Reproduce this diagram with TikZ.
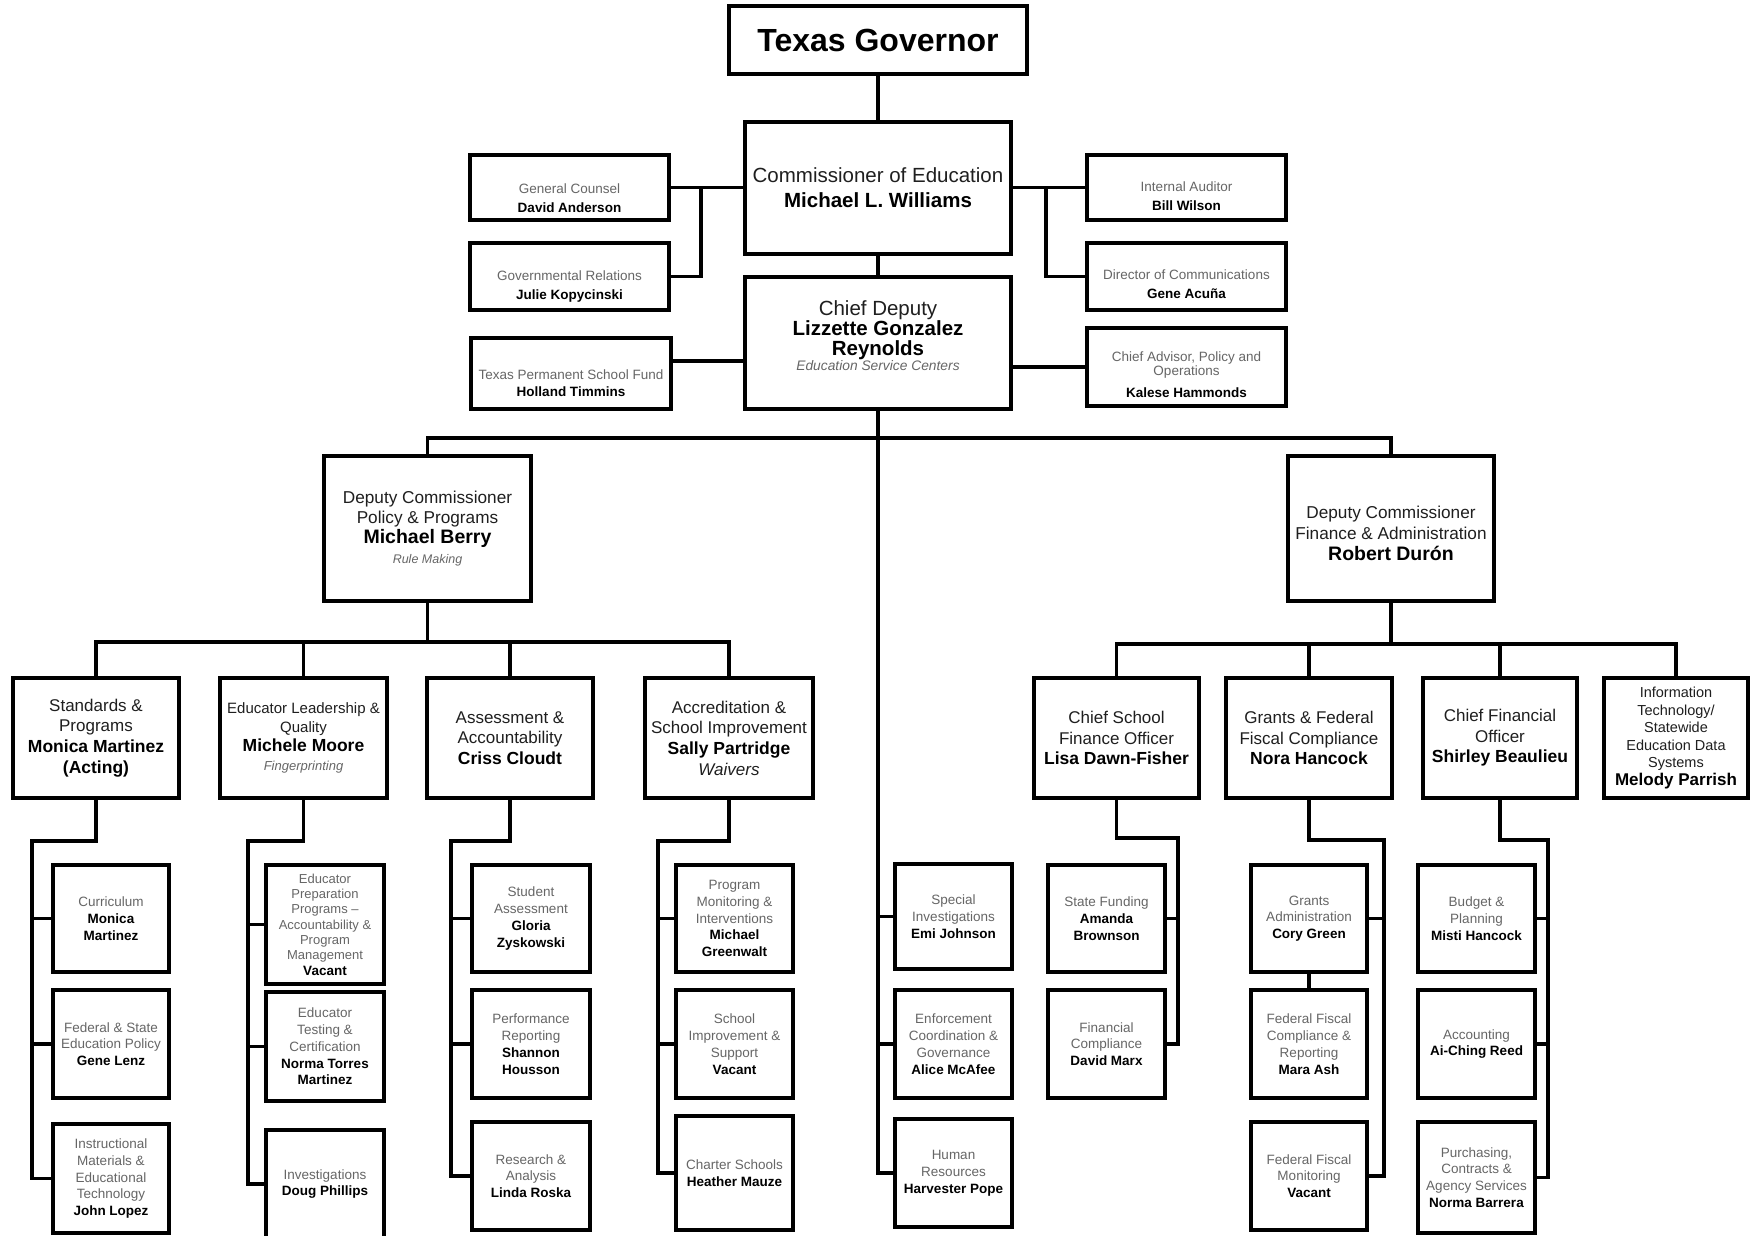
\documentclass[tikz,border=0pt]{standalone}
\usepackage{fontspec}
\setmainfont{Liberation Sans}
\usetikzlibrary{calc}
\definecolor{tgray}{gray}{0.40}
\definecolor{dgray}{gray}{0.12}
\newcommand{\Ttl}[1]{{\color{tgray}#1}}
\newcommand{\Nm}[1]{{\bfseries\color{black}#1}}
\newcommand{\FS}[2]{\fontsize{#1}{#2}\selectfont}
\newcommand{\Pad}[1]{\mbox{}\\[#1]}
\newcommand{\Bx}[7]{\node[#1, minimum width={#5-#3}, minimum height={#6-#4}] (#2) at ({(#3+#5)/2},{(#4+#6)/2}) {#7};}
\begin{document}
\begin{tikzpicture}[x=1pt,y=-1pt,
  box/.style={draw, line width=3.2pt, align=center, inner sep=1pt, fill=white, text=dgray},
  small/.style={box, font=\fontsize{13.5}{16.8}\selectfont},
  conn/.style={line width=3.2pt, line join=miter, line cap=rect}]
\useasboundingbox (0,0) rectangle (1754,1235);
\clip (0,0) rectangle (1754,1235);

% ---------- top ----------
\Bx{box, font=\FS{32}{36}\bfseries, text=black}{gov}{729}{6}{1027}{74}{Texas Governor}
\Bx{box, font=\FS{20.5}{25}}{comm}{745}{122}{1011}{254}{Commissioner of Education\\\Nm{Michael L. Williams}}
\Bx{box, font=\FS{20.5}{20}}{cd}{745}{277}{1011}{409}{Chief Deputy\\\Nm{Lizzette Gonzalez}\\\Nm{Reynolds}\\[-4.5pt]\FS{13.8}{19}\itshape\color{tgray}Education Service Centers\\[-5pt]\mbox{}}

\Bx{small, font=\FS{13.5}{19}}{gc}{470}{155}{669}{220}{\Pad{12.3pt}\Ttl{General Counsel}\\\Nm{David Anderson}}
\Bx{small, font=\FS{13.5}{19}}{gr}{470}{243}{669}{310}{\Pad{9.9pt}\Ttl{Governmental Relations}\\\Nm{Julie Kopycinski}}
\Bx{small}{tpsf}{471}{338}{671}{409}{\Pad{11.7pt}\Ttl{Texas Permanent School Fund}\\\Nm{Holland Timmins}}
\Bx{small, font=\FS{13.5}{19}}{ia}{1087}{155}{1286}{220}{\Pad{8.9pt}\Ttl{Internal Auditor}\\\Nm{Bill Wilson}}
\Bx{small, font=\FS{13.5}{19}}{dc}{1087}{243}{1286}{310}{\Pad{5.7pt}\Ttl{Director of Communications}\\\Nm{Gene Acuña}}
\Bx{small, font=\FS{13.5}{13.5}}{ca}{1087}{328}{1286}{406}{\Pad{12pt}\Ttl{Chief Advisor, Policy and}\\\Ttl{Operations}\\[8.5pt]\Nm{Kalese Hammonds}}

% ---------- deputies ----------
\Bx{box, font=\FS{17.2}{20}}{dp}{324}{456}{531}{601}{Deputy Commissioner\\Policy \& Programs\\\FS{19.5}{20}\Nm{Michael Berry}\\\FS{12.5}{19}\itshape\color{tgray}Rule Making}
\Bx{box, font=\FS{17.2}{21}}{df}{1288}{456}{1494}{601}{\Pad{0.5pt}Deputy Commissioner\\Finance \& Administration\\\FS{19.5}{21}\Nm{Robert Durón}}

% ---------- second level ----------
\Bx{box, font=\FS{17}{20.7}}{sp}{13}{678}{179}{798}{Standards \&\\Programs\\\FS{17.5}{20.7}\Nm{Monica Martinez}\\\FS{17.5}{20.7}\Nm{(Acting)}}
\Bx{box, font=\FS{15}{19}}{el}{220}{678}{387}{798}{Educator Leadership \&\\Quality\\\FS{17.5}{19}\Nm{Michele Moore}\\\FS{13}{18}\itshape\color{tgray}Fingerprinting}
\Bx{box, font=\FS{17}{20.5}}{aa}{427}{678}{593}{798}{Assessment \&\\Accountability\\\FS{17.5}{20.5}\Nm{Criss Cloudt}}
\Bx{box, font=\FS{17}{20.7}}{ac}{645}{678}{813}{798}{Accreditation \&\\School Improvement\\\FS{17.5}{20.7}\Nm{Sally Partridge}\\\itshape Waivers}
\Bx{box, font=\FS{17}{20.5}}{cs}{1034}{678}{1199}{798}{Chief School\\Finance Officer\\\FS{17.5}{20.5}\Nm{Lisa Dawn-Fisher}}
\Bx{box, font=\FS{17}{20.5}}{gf}{1226}{678}{1392}{798}{Grants \& Federal\\Fiscal Compliance\\\FS{17.5}{20.5}\Nm{Nora Hancock}}
\Bx{box, font=\FS{17}{20.5}}{cf}{1423}{678}{1577}{798}{Chief Financial\\Officer\\\FS{17.5}{20.5}\Nm{Shirley Beaulieu}}
\Bx{box, font=\FS{14.5}{17.5}}{it}{1604}{678}{1748}{798}{Information\\Technology/\\Statewide\\Education Data\\Systems\\\FS{17}{18}\Nm{Melody Parrish}}

% ---------- third level ----------
\Bx{small}{cu}{53}{865}{169}{972}{\Ttl{Curriculum}\\\Nm{Monica}\\\Nm{Martinez}}
\Bx{small}{fs}{53}{990}{169}{1098}{\Ttl{Federal \& State}\\\Ttl{Education Policy}\\\Nm{Gene Lenz}}
\Bx{small}{ib}{53}{1124}{169}{1233}{\Ttl{Instructional}\\\Ttl{Materials \&}\\\Ttl{Educational}\\\Ttl{Technology}\\\Nm{John Lopez}}

\Bx{small, font=\FS{13}{15.3}}{ep}{266}{865}{384}{984}{\Ttl{Educator}\\\Ttl{Preparation}\\\Ttl{Programs –}\\\Ttl{Accountability \&}\\\Ttl{Program}\\\Ttl{Management}\\\FS{13.5}{15.3}\Nm{Vacant}}
\Bx{small}{et}{266}{992}{384}{1101}{\Ttl{Educator}\\\Ttl{Testing \&}\\\Ttl{Certification}\\\Nm{Norma Torres}\\\Nm{Martinez}}
\Bx{small}{iv}{266}{1130}{384}{1238}{\Ttl{Investigations}\\\Nm{Doug Phillips}}

\Bx{small}{sa}{472}{865}{590}{972}{\Ttl{Student}\\\Ttl{Assessment}\\\Nm{Gloria}\\\Nm{Zyskowski}}
\Bx{small}{pr}{472}{990}{590}{1098}{\Ttl{Performance}\\\Ttl{Reporting}\\\Nm{Shannon}\\\Nm{Housson}}
\Bx{small}{ra}{472}{1122}{590}{1230}{\Ttl{Research \&}\\\Ttl{Analysis}\\\Nm{Linda Roska}}

\Bx{small}{pm}{676}{865}{793}{972}{\Ttl{Program}\\\Ttl{Monitoring \&}\\\Ttl{Interventions}\\\Nm{Michael}\\\Nm{Greenwalt}}
\Bx{small}{sis}{676}{990}{793}{1098}{\Ttl{School}\\\Ttl{Improvement \&}\\\Ttl{Support}\\\Nm{Vacant}}
\Bx{small}{ch}{676}{1116}{793}{1230}{\Ttl{Charter Schools}\\\Nm{Heather Mauze}}

\Bx{small}{sinv}{895}{864}{1012}{969}{\Ttl{Special}\\\Ttl{Investigations}\\\Nm{Emi Johnson}}
\Bx{small}{ec}{895}{990}{1012}{1098}{\Ttl{Enforcement}\\\Ttl{Coordination \&}\\\Ttl{Governance}\\\Nm{Alice McAfee}}
\Bx{small}{hr}{895}{1119}{1012}{1227}{\Ttl{Human}\\\Ttl{Resources}\\\Nm{Harvester Pope}}

\Bx{small}{sf}{1048}{865}{1165}{972}{\Ttl{State Funding}\\\Nm{Amanda}\\\Nm{Brownson}}
\Bx{small}{fc}{1048}{990}{1165}{1098}{\Ttl{Financial}\\\Ttl{Compliance}\\\Nm{David Marx}}

\Bx{small}{ga}{1251}{865}{1367}{972}{\Ttl{Grants}\\\Ttl{Administration}\\\Nm{Cory Green}}
\Bx{small}{ffc}{1251}{990}{1367}{1098}{\Ttl{Federal Fiscal}\\\Ttl{Compliance \&}\\\Ttl{Reporting}\\\Nm{Mara Ash}}
\Bx{small}{ffm}{1251}{1122}{1367}{1230}{\Ttl{Federal Fiscal}\\\Ttl{Monitoring}\\\Nm{Vacant}}

\Bx{small}{bp}{1418}{865}{1535}{972}{\Ttl{Budget \&}\\\Ttl{Planning}\\\Nm{Misti Hancock}}
\Bx{small}{acc}{1418}{990}{1535}{1098}{\Ttl{Accounting}\\\Nm{Ai-Ching Reed}}
\Bx{small}{pc}{1418}{1122}{1535}{1233}{\Ttl{Purchasing,}\\\Ttl{Contracts \&}\\\Ttl{Agency Services}\\\Nm{Norma Barrera}}

% ---------- connectors ----------
\coordinate (lv) at (701,187.5);
\coordinate (rv) at (1046,187.5);
\coordinate (tp) at (671,361);
\coordinate (bus) at (878,438);
\coordinate (pbus) at (427.5,642);
\coordinate (fbus) at (1391,644);
\coordinate (sv) at (32,841);
\coordinate (ev) at (248,841);
\coordinate (av) at (451,841);
\coordinate (acv) at (658,841);
\coordinate (csv) at (1178,838);
\coordinate (gv) at (1384,840);
\coordinate (cfv) at (1548,840);

\draw[conn] (gov.south) -- (comm.north);
\draw[conn] (comm.south) -- (cd.north);
\draw[conn] (gc.east) -- (gc.east -| comm.west);
\draw[conn] (gr.east) -| (lv);
\draw[conn] (ia.west) -- (ia.west -| comm.east);
\draw[conn] (dc.west) -| (rv);
\draw[conn] (tp) -- (tp -| cd.west);
\draw[conn] (ca.west) -- (ca.west -| cd.east);

\draw[conn] (dp.north) |- (bus) -| (df.north);
\draw[conn] (cd.south) -- (cd.south |- hr.west) -- (hr.west);
\draw[conn] (sinv.west) -- (sinv.west -| cd.south);
\draw[conn] (ec.west) -- (ec.west -| cd.south);

\draw[conn] (dp.south) -- (pbus);
\draw[conn] (sp.north) -- (sp.north |- pbus) -- (ac.north |- pbus) -- (ac.north);
\draw[conn] (el.north) -- (el.north |- pbus);
\draw[conn] (aa.north) -- (aa.north |- pbus);

\draw[conn] (df.south) -- (fbus);
\draw[conn] (cs.north) -- (cs.north |- fbus) -- (it.north |- fbus) -- (it.north);
\draw[conn] (gf.north) -- (gf.north |- fbus);
\draw[conn] (cf.north) -- (cf.north |- fbus);

\draw[conn] (sp.south) |- (sv) -- (sv |- ib.west) -- (ib.west);
\draw[conn] (cu.west) -- (cu.west -| sv);
\draw[conn] (fs.west) -- (fs.west -| sv);

\draw[conn] (el.south) |- (ev) -- (ev |- iv.west) -- (iv.west);
\draw[conn] (ep.west) -- (ep.west -| ev);
\draw[conn] (et.west) -- (et.west -| ev);

\draw[conn] (aa.south) |- (av) -- (av |- ra.west) -- (ra.west);
\draw[conn] (sa.west) -- (sa.west -| av);
\draw[conn] (pr.west) -- (pr.west -| av);

\draw[conn] (ac.south) |- (acv) -- (acv |- ch.west) -- (ch.west);
\draw[conn] (pm.west) -- (pm.west -| acv);
\draw[conn] (sis.west) -- (sis.west -| acv);

\draw[conn] (cs.south) |- (csv) -- (csv |- fc.east) -- (fc.east);
\draw[conn] (sf.east) -- (sf.east -| csv);

\draw[conn] (gf.south) |- (gv) -- (gv |- ffm.east) -- (ffm.east);
\draw[conn] (ga.east) -- (ga.east -| gv);
\draw[conn] (ga.south) -- (ffc.north);

\draw[conn] (cf.south) |- (cfv) -- (cfv |- pc.east) -- (pc.east);
\draw[conn] (bp.east) -- (bp.east -| cfv);
\draw[conn] (acc.east) -- (acc.east -| cfv);
\end{tikzpicture}
\end{document}
